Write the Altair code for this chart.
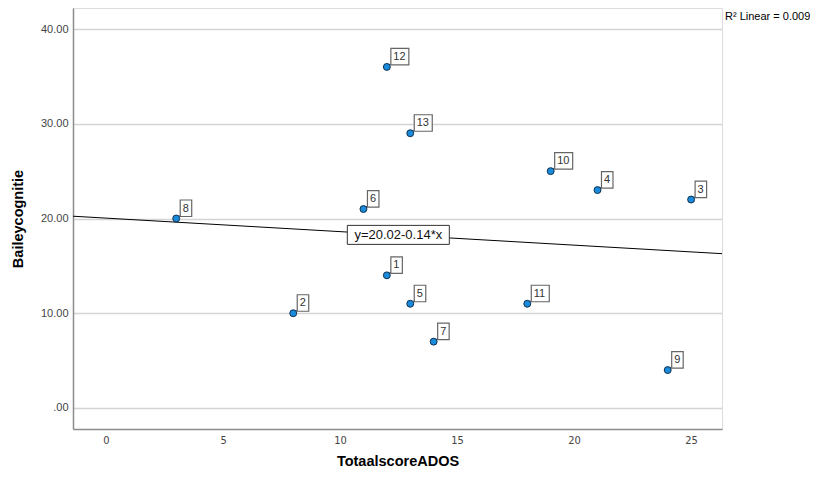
import altair as alt
import pandas as pd

# ---- data ----
case_ids = [1, 2, 3, 4, 5, 6, 7, 8, 9, 10, 11, 12, 13]
ados = [12, 8, 25, 21, 13, 11, 14, 3, 24, 19, 18, 12, 13]
bailey = [14, 10, 22, 23, 11, 21, 7, 20, 4, 25, 11, 36, 29]
x_ticks = [0, 5, 10, 15, 20, 25]
y_ticks = [0, 10, 20, 30, 40]
fit_intercept = 20.02
fit_slope = -0.14
fit_label = "y=20.02-0.14*x"
fit_label_x = [12.49]
r2_label = ["R² Linear = 0.009"]

df = pd.DataFrame({"case": case_ids, "ados": ados, "bailey": bailey})
df["lab"] = df["case"].astype(str)
df["two"] = df["lab"].str.len() > 1

eq_df = pd.DataFrame({"ados": fit_label_x})
eq_df["bailey"] = fit_intercept + fit_slope * eq_df["ados"]
eq_df["lab"] = fit_label

r2_df = pd.DataFrame({"lab": r2_label})

X_DOM = [-1.41, 26.32]
Y_DOM = [-2.22, 42.22]
FONT = "Liberation Sans"

x_enc = alt.X(
    "ados:Q",
    scale=alt.Scale(domain=X_DOM, nice=False, zero=False),
    axis=alt.Axis(
        values=x_ticks, title="TotaalscoreADOS", grid=False, ticks=False,
        labelPadding=5, titlePadding=9, labelFontSize=11, labelColor="#444444",
        labelFont="DejaVu Sans Condensed", titleFontSize=14.5, titleFontWeight="bold",
        titleFont=FONT, titleColor="#000000", domainColor="#8c8c8c", domainWidth=1.5,
    ),
)
y_enc = alt.Y(
    "bailey:Q",
    scale=alt.Scale(domain=Y_DOM, nice=False, zero=False),
    axis=alt.Axis(
        values=y_ticks, title="Baileycognitie", grid=True, ticks=False,
        gridColor="#d4d4d4", gridWidth=1.5,
        labelExpr="datum.value == 0 ? '.00' : format(datum.value, '.2f')",
        labelPadding=5, titlePadding=15, labelFontSize=11, labelColor="#444444",
        labelFont=FONT, titleFontSize=14.5, titleFontWeight="bold", titleFont=FONT,
        titleColor="#000000", domainColor="#8c8c8c", domainWidth=1.5,
    ),
)
x2 = alt.X2("ados:Q")
y2 = alt.Y2("bailey:Q")

fit = alt.Chart(df).transform_regression(
    "ados", "bailey", extent=X_DOM
).mark_line(color="#000000", strokeWidth=1).encode(x=x_enc, y=y_enc)

eq_box = alt.Chart(eq_df).mark_rect(
    fill="white", stroke="#333333", strokeWidth=1,
    xOffset=-51, x2Offset=51, yOffset=-9.5, y2Offset=9.5,
).encode(x=x_enc, x2=x2, y=y_enc, y2=y2)
eq_text = alt.Chart(eq_df).mark_text(
    fontSize=13, font=FONT, color="#111111", baseline="middle", dy=0.5
).encode(x=x_enc, y=y_enc, text="lab:N")

leader = alt.Chart(df).mark_rule(
    color="#555555", strokeWidth=1, xOffset=2, x2Offset=4.5, yOffset=-2, y2Offset=-3,
).encode(x=x_enc, x2=x2, y=y_enc, y2=y2)

box1 = alt.Chart(df).transform_filter("!datum.two").mark_rect(
    fill="white", stroke="#666666", strokeWidth=1.2,
    xOffset=4, x2Offset=15.5, yOffset=-18.5, y2Offset=-2,
).encode(x=x_enc, x2=x2, y=y_enc, y2=y2)
box2 = alt.Chart(df).transform_filter("datum.two").mark_rect(
    fill="white", stroke="#666666", strokeWidth=1.2,
    xOffset=4, x2Offset=22, yOffset=-18.5, y2Offset=-2,
).encode(x=x_enc, x2=x2, y=y_enc, y2=y2)
labels = alt.Chart(df).mark_text(
    fontSize=11, font=FONT, color="#333333", align="left", baseline="middle",
    dx=6.5, dy=-10,
).encode(x=x_enc, y=y_enc, text="lab:N")

points = alt.Chart(df).mark_point(
    filled=True, shape="circle", size=48, fill="#1a8bdb", stroke="#10304f",
    strokeWidth=1, opacity=1,
).encode(x=x_enc, y=y_enc)

r2 = alt.Chart(r2_df).mark_text(
    fontSize=11, font=FONT, color="#000000", align="left", baseline="middle",
).encode(x=alt.value(652), y=alt.value(9), text="lab:N")

chart = alt.layer(
    fit, eq_box, eq_text, leader, box1, box2, labels, points, r2
).properties(
    width=649, height=421,
    autosize=alt.AutoSizeParams(type="none"),
    padding={"left": 65, "top": 0, "right": 88, "bottom": 41},
).configure_view(stroke=None).configure(background="white")

chart.save("out.html", embed_options={"renderer": "svg", "actions": False})
